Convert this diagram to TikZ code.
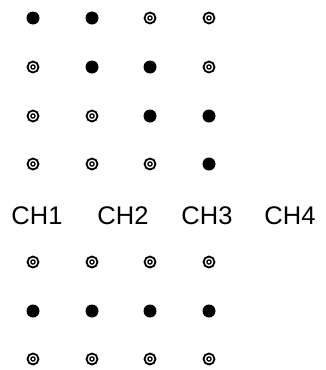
\documentclass[tikz,border=0pt]{standalone}
\usepackage{fontspec}
\setmainfont{Liberation Sans}
\usetikzlibrary{positioning}

\begin{document}
\begin{tikzpicture}[
    x=1pt, y=-1pt,
    on/.style={circle, fill=black, inner sep=0pt, minimum size=13pt},
    off/.style={circle, draw=black, line width=1.8pt, inner sep=0pt, minimum size=11pt,
        path picture={\draw[line width=1.3pt] (path picture bounding box.center) circle (2.1pt);}},
    chan/.style={anchor=base, inner sep=0pt, font=\fontsize{25.5}{30}\selectfont}
]
\useasboundingbox (0,0) rectangle (325,370);

% ==================== Upper rows ====================
\node[on]  (r1c1) at (33, 18) {};
\node[on]  (r1c2) at (92, 18) {};
\node[off] (r1c3) at (150, 18) {};
\node[off] (r1c4) at (209, 18) {};

\node[off] (r2c1) at (33, 67) {};
\node[on]  (r2c2) at (92, 67) {};
\node[on]  (r2c3) at (150, 67) {};
\node[off] (r2c4) at (209, 67) {};

\node[off] (r3c1) at (33, 116) {};
\node[off] (r3c2) at (92, 116) {};
\node[on]  (r3c3) at (150, 116) {};
\node[on]  (r3c4) at (209, 116) {};

\node[off] (r4c1) at (33, 164) {};
\node[off] (r4c2) at (92, 164) {};
\node[off] (r4c3) at (150, 164) {};
\node[on]  (r4c4) at (209, 164) {};

% ==================== Channel labels ====================
\node[chan] (ch1) at (37, 224) {CH1};
\node[chan] (ch2) at (123, 224) {CH2};
\node[chan] (ch3) at (207, 224) {CH3};
\node[chan] (ch4) at (290, 224) {CH4};

% ==================== Lower rows ====================
\node[off] (r5c1) at (33, 262) {};
\node[off] (r5c2) at (92, 262) {};
\node[off] (r5c3) at (150, 262) {};
\node[off] (r5c4) at (209, 262) {};

\node[on]  (r6c1) at (33, 311) {};
\node[on]  (r6c2) at (92, 311) {};
\node[on]  (r6c3) at (150, 311) {};
\node[on]  (r6c4) at (209, 311) {};

\node[off] (r7c1) at (33, 359) {};
\node[off] (r7c2) at (92, 359) {};
\node[off] (r7c3) at (150, 359) {};
\node[off] (r7c4) at (209, 359) {};

\end{tikzpicture}
\end{document}
